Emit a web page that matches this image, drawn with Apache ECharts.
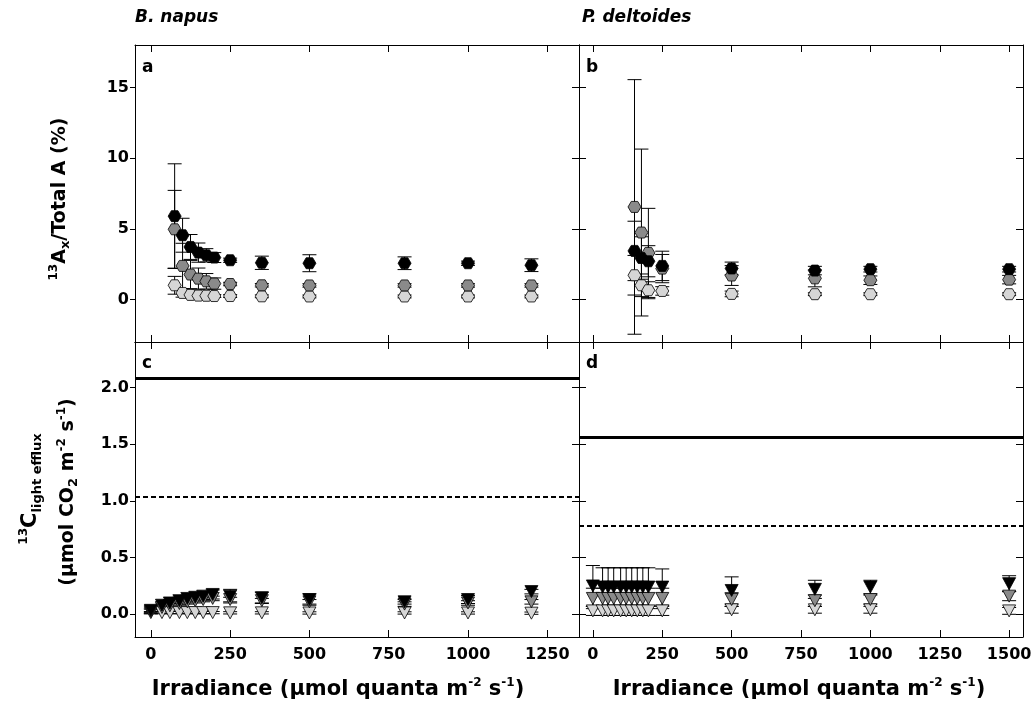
<!DOCTYPE html>
<html>
<head>
<meta charset="utf-8">
<script src="https://cdn.jsdelivr.net/npm/echarts@6/dist/echarts.min.js"></script>
<style>
  html, body { margin: 0; padding: 0; background: #fff; }
  #chart { width: 1036px; height: 716px; }
</style>
</head>
<body>
<div id="chart"></div>
<script>
// ---- data ----
// panel a : B. napus, 13Ax / total A (%)
const napusAxX = [75, 100, 125, 150, 175, 200, 250, 350, 500, 800, 1000, 1200];
const napusAxBlack = [5.9, 4.55, 3.72, 3.32, 3.13, 2.97, 2.78, 2.6, 2.57, 2.57, 2.57, 2.43];
const napusAxBlackErr = [3.7, 1.2, 0.88, 0.68, 0.47, 0.35, 0.15, 0.47, 0.6, 0.45, 0.15, 0.45];
const napusAxGray = [4.97, 2.38, 1.77, 1.48, 1.29, 1.13, 1.1, 1.01, 1.0, 1.0, 1.0, 1.0];
const napusAxGrayErr = [2.75, 1.6, 1.0, 0.75, 0.55, 0.4, 0.12, 0.12, 0.12, 0.12, 0.12, 0.12];
const napusAxLight = [1.01, 0.47, 0.33, 0.28, 0.27, 0.25, 0.25, 0.23, 0.22, 0.22, 0.22, 0.22];
const napusAxLightErr = [0.63, 0.3, 0.1, 0.1, 0.1, 0.1, 0.1, 0.1, 0.1, 0.1, 0.1, 0.1];

// panel b : P. deltoides, 13Ax / total A (%)
const deltAxX = [150, 175, 200, 250, 500, 800, 1000, 1500];
const deltAxBlack = [3.44, 2.94, 2.71, 2.38, 2.2, 2.05, 2.15, 2.15];
const deltAxBlackErr = [2.1, 1.5, 1.1, 1.04, 0.45, 0.3, 0.2, 0.2];
const deltAxGray = [6.55, 4.74, 3.3, 2.19, 1.7, 1.5, 1.37, 1.41];
const deltAxGrayErr = [9.0, 5.9, 3.15, 1.0, 0.7, 0.6, 0.3, 0.3];
const deltAxLight = [1.72, 1.01, 0.66, 0.61, 0.4, 0.38, 0.38, 0.38];
const deltAxLightErr = [1.4, 0.8, 0.6, 0.3, 0.2, 0.1, 0.1, 0.1];

// panel c : B. napus, 13C light efflux
const napusEffX = [0, 35, 60, 90, 115, 140, 165, 195, 250, 350, 500, 800, 1000, 1200];
const napusEffBlack = [0.035, 0.08, 0.1, 0.12, 0.14, 0.15, 0.16, 0.175, 0.16, 0.145, 0.13, 0.11, 0.13, 0.2];
const napusEffBlackErr = [0.02, 0.02, 0.03, 0.03, 0.03, 0.03, 0.03, 0.04, 0.06, 0.05, 0.05, 0.02, 0.035, 0.02];
const napusEffGray = [0.025, 0.06, 0.075, 0.095, 0.11, 0.12, 0.13, 0.14, 0.13, 0.12, 0.11, 0.09, 0.1, 0.11];
const napusEffGrayErr = [0.02, 0.02, 0.02, 0.02, 0.02, 0.02, 0.02, 0.02, 0.02, 0.02, 0.02, 0.02, 0.02, 0.02];
const napusEffLight = [0.015, 0.015, 0.015, 0.015, 0.015, 0.015, 0.015, 0.015, 0.013, 0.013, 0.012, 0.012, 0.012, 0.01];
const napusEffLightErr = [0.01, 0.01, 0.01, 0.01, 0.01, 0.01, 0.01, 0.01, 0.01, 0.01, 0.01, 0.01, 0.01, 0.01];

// panel d : P. deltoides, 13C light efflux
const deltEffX = [0, 35, 55, 75, 100, 120, 140, 160, 180, 200, 250, 500, 800, 1000, 1500];
const deltEffBlack = [0.25, 0.24, 0.24, 0.24, 0.24, 0.24, 0.24, 0.24, 0.24, 0.24, 0.24, 0.21, 0.22, 0.24, 0.27];
const deltEffBlackErr = [0.18, 0.17, 0.17, 0.17, 0.17, 0.17, 0.17, 0.17, 0.17, 0.17, 0.16, 0.12, 0.08, 0.06, 0.07];
const deltEffGray = [0.14, 0.14, 0.14, 0.14, 0.14, 0.14, 0.14, 0.14, 0.14, 0.14, 0.14, 0.13, 0.12, 0.13, 0.16];
const deltEffGrayErr = [0.09, 0.09, 0.09, 0.09, 0.09, 0.09, 0.09, 0.09, 0.09, 0.09, 0.09, 0.06, 0.05, 0.04, 0.04];
const deltEffLight = [0.03, 0.03, 0.03, 0.03, 0.03, 0.03, 0.03, 0.03, 0.03, 0.03, 0.03, 0.04, 0.04, 0.04, 0.03];
const deltEffLightErr = [0.04, 0.04, 0.04, 0.04, 0.04, 0.04, 0.04, 0.04, 0.04, 0.04, 0.04, 0.03, 0.03, 0.03, 0.03];

// horizontal reference lines in c and d
const refSolid = [2.08, 1.56];
const refDashed = [1.04, 0.78];

// tick values
const napusXTicks = [0, 250, 500, 750, 1000, 1250];
const deltXTicks = [0, 250, 500, 750, 1000, 1250, 1500];
const axYTicks = [0, 5, 10, 15];
const effYTicks = [0, 0.5, 1.0, 1.5, 2.0];

// ---- chart ----
const FONT = '"DejaVu Sans", "Liberation Sans", sans-serif';
const BLACK = '#000000', GRAY = '#8a8a8a', LIGHT = '#d6d6d6';
const HEX = 'path://M-1,0 L-0.5,-0.866 L0.5,-0.866 L1,0 L0.5,0.866 L-0.5,0.866 Z';

const myChart = echarts.init(document.getElementById('chart'));

const grids = [
  { left: 135, top: 45, width: 444, height: 297 },   // a
  { left: 579, top: 45, width: 444, height: 297 },   // b
  { left: 135, top: 342, width: 444, height: 295 },  // c
  { left: 579, top: 342, width: 444, height: 295 }   // d
];
const xRange = [[-50, 1350], [-50, 1550], [-50, 1350], [-50, 1550]];
const yRange = [[-3, 18], [-3, 18], [-0.2, 2.4], [-0.2, 2.4]];
const xTicks = [napusXTicks, deltXTicks, napusXTicks, deltXTicks];
const yTicks = [axYTicks, axYTicks, effYTicks, effYTicks];

function xAxisFor(i, pos) {
  const labels = pos === 'bottom' && i >= 2;
  return {
    type: 'value', gridIndex: i, position: pos,
    min: xRange[i][0], max: xRange[i][1],
    axisLine: { show: true, onZero: false, lineStyle: { color: '#000', width: 1 } },
    axisTick: { show: true, inside: true, length: 7, customValues: xTicks[i], lineStyle: { color: '#000', width: 1 } },
    axisLabel: {
      show: labels, customValues: xTicks[i], margin: 10,
      color: '#000', fontFamily: FONT, fontWeight: 'bold', fontSize: 16,
      formatter: (v) => String(v)
    },
    splitLine: { show: false }
  };
}

function yAxisFor(i, pos) {
  const outer = pos === 'left' && (i === 0 || i === 2);
  return {
    type: 'value', gridIndex: i, position: pos,
    min: yRange[i][0], max: yRange[i][1],
    axisLine: { show: true, onZero: false, lineStyle: { color: '#000', width: 1 } },
    axisTick: { show: true, inside: !outer, length: outer ? 5 : 7, customValues: yTicks[i], lineStyle: { color: '#000', width: 1 } },
    axisLabel: {
      show: outer, customValues: yTicks[i], margin: 6,
      color: '#000', fontFamily: FONT, fontWeight: 'bold', fontSize: 16,
      formatter: (v) => (i >= 2 ? v.toFixed(1) : String(v))
    },
    splitLine: { show: false }
  };
}

const xAxes = [], yAxes = [];
for (let i = 0; i < 4; i++) { xAxes.push(xAxisFor(i, 'bottom')); yAxes.push(yAxisFor(i, 'left')); }
for (let i = 0; i < 4; i++) { xAxes.push(xAxisFor(i, 'top')); yAxes.push(yAxisFor(i, 'right')); }

function errSeries(i, xs, ys, es) {
  return {
    type: 'custom', xAxisIndex: i, yAxisIndex: i, silent: true, z: 2,
    data: xs.map((x, k) => [x, ys[k] - es[k], ys[k] + es[k]]),
    renderItem: function (params, api) {
      const lo = api.coord([api.value(0), api.value(1)]);
      const hi = api.coord([api.value(0), api.value(2)]);
      const cap = 7;
      const st = { stroke: '#000', lineWidth: 1 };
      return {
        type: 'group', children: [
          { type: 'line', shape: { x1: lo[0], y1: lo[1], x2: hi[0], y2: hi[1] }, style: st },
          { type: 'line', shape: { x1: lo[0] - cap, y1: lo[1], x2: lo[0] + cap, y2: lo[1] }, style: st },
          { type: 'line', shape: { x1: hi[0] - cap, y1: hi[1], x2: hi[0] + cap, y2: hi[1] }, style: st }
        ]
      };
    }
  };
}

function markSeries(i, xs, ys, color, tri) {
  return {
    type: 'scatter', xAxisIndex: i, yAxisIndex: i, silent: true, z: 3,
    data: xs.map((x, k) => [x, ys[k]]),
    symbol: tri ? 'triangle' : HEX,
    symbolSize: tri ? [13, 12] : [13, 11],
    symbolRotate: tri ? 180 : 0,
    itemStyle: { color: color, borderColor: '#000', borderWidth: 0.8, opacity: 1 }
  };
}

function refLines(i, solid, dashed) {
  return {
    type: 'scatter', xAxisIndex: i, yAxisIndex: i, silent: true, data: [],
    markLine: {
      silent: true, symbol: 'none', label: { show: false },
      data: [
        { yAxis: solid, lineStyle: { color: '#000', type: 'solid', width: 3 } },
        { yAxis: dashed, lineStyle: { color: '#000', type: [5, 3], width: 2 } }
      ]
    }
  };
}

const panels = [
  { x: napusAxX, b: napusAxBlack, be: napusAxBlackErr, g: napusAxGray, ge: napusAxGrayErr, l: napusAxLight, le: napusAxLightErr, tri: false },
  { x: deltAxX, b: deltAxBlack, be: deltAxBlackErr, g: deltAxGray, ge: deltAxGrayErr, l: deltAxLight, le: deltAxLightErr, tri: false },
  { x: napusEffX, b: napusEffBlack, be: napusEffBlackErr, g: napusEffGray, ge: napusEffGrayErr, l: napusEffLight, le: napusEffLightErr, tri: true },
  { x: deltEffX, b: deltEffBlack, be: deltEffBlackErr, g: deltEffGray, ge: deltEffGrayErr, l: deltEffLight, le: deltEffLightErr, tri: true }
];

const series = [];
panels.forEach((p, i) => {
  series.push(errSeries(i, p.x, p.l, p.le));
  series.push(errSeries(i, p.x, p.g, p.ge));
  series.push(errSeries(i, p.x, p.b, p.be));
  series.push(markSeries(i, p.x, p.l, LIGHT, p.tri));
  series.push(markSeries(i, p.x, p.g, GRAY, p.tri));
  series.push(markSeries(i, p.x, p.b, BLACK, p.tri));
});
series.push(refLines(2, refSolid[0], refDashed[0]));
series.push(refLines(3, refSolid[1], refDashed[1]));

function rich(size) {
  return {
    n: { fontFamily: FONT, fontWeight: 'bold', fontSize: size, lineHeight: size + 6, fill: '#000' },
    big: { fontFamily: FONT, fontWeight: 'bold', fontSize: size + 2, lineHeight: size + 8, fill: '#000' },
    sup: { fontFamily: FONT, fontWeight: 'bold', fontSize: 12, lineHeight: 12, verticalAlign: 'top', fill: '#000' },
    sub: { fontFamily: FONT, fontWeight: 'bold', fontSize: 13, lineHeight: 13, verticalAlign: 'bottom', fill: '#000' }
  };
}

function label(txt, x, y) {
  return { type: 'text', x: x, y: y, silent: true,
    style: { text: txt, fill: '#000', font: 'bold 17px ' + FONT, align: 'left', verticalAlign: 'middle' } };
}

const graphic = [
  { type: 'text', x: 135, y: 18, silent: true,
    style: { text: 'B. napus', fill: '#000', font: 'italic bold 17px ' + FONT, verticalAlign: 'middle' } },
  { type: 'text', x: 582, y: 18, silent: true,
    style: { text: 'P. deltoides', fill: '#000', font: 'italic bold 17px ' + FONT, verticalAlign: 'middle' } },
  label('a', 142, 68), label('b', 586, 68), label('c', 142, 364), label('d', 586, 364),
  { type: 'text', x: 60, y: 199, rotation: Math.PI / 2, silent: true,
    style: { text: '{sup|13}{n|A}{sub|x}{n|/Total A (%)}', rich: rich(19), align: 'center', verticalAlign: 'middle' } },
  { type: 'text', x: 31, y: 489, rotation: Math.PI / 2, silent: true,
    style: { text: '{sup|13}{big|C}{sub|light efflux}', rich: rich(19), align: 'center', verticalAlign: 'middle' } },
  { type: 'text', x: 68, y: 492, rotation: Math.PI / 2, silent: true,
    style: { text: '{n|(\u03bcmol CO}{sub|2}{n| m}{sup|-2}{n| s}{sup|-1}{n|)}', rich: rich(19), align: 'center', verticalAlign: 'middle' } },
  { type: 'text', x: 338, y: 690, silent: true,
    style: { text: '{n|Irradiance (\u03bcmol quanta m}{sup|-2}{n| s}{sup|-1}{n|)}', rich: rich(21), align: 'center', verticalAlign: 'middle' } },
  { type: 'text', x: 799, y: 690, silent: true,
    style: { text: '{n|Irradiance (\u03bcmol quanta m}{sup|-2}{n| s}{sup|-1}{n|)}', rich: rich(21), align: 'center', verticalAlign: 'middle' } }
];

const option = {
  backgroundColor: '#fff',
  animation: false,
  grid: grids,
  xAxis: xAxes,
  yAxis: yAxes,
  series: series,
  graphic: graphic
};

myChart.setOption(option);
</script>
</body>
</html>
